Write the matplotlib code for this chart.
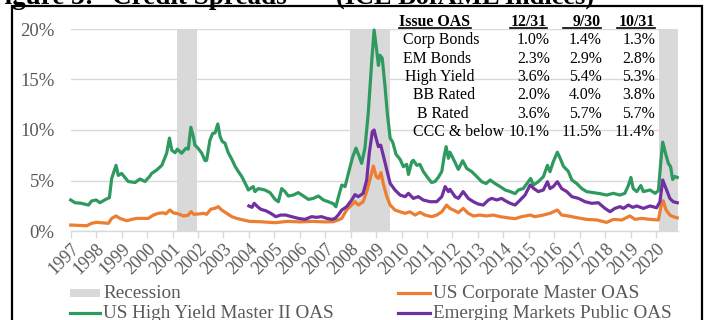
import matplotlib
matplotlib.use("Agg")
import matplotlib.pyplot as plt
from matplotlib.patches import Rectangle
from matplotlib.lines import Line2D
import numpy as np

plt.rcParams["font.family"] = ["Liberation Serif", "DejaVu Serif"]

# ---------------- data ----------------
hy_dates = [1997.0, 1997.17, 1997.4, 1997.7, 1997.82, 1998.0, 1998.15, 1998.35, 1998.52, 1998.61,
            1998.78, 1998.87, 1999.0, 1999.26, 1999.53, 1999.72, 1999.92, 2000.1, 2000.18, 2000.38,
            2000.58, 2000.77, 2000.88, 2000.97, 2001.1, 2001.19, 2001.36, 2001.53, 2001.62, 2001.72,
            2001.82, 2001.88, 2002.0, 2002.15, 2002.28, 2002.34, 2002.47, 2002.58, 2002.67, 2002.78,
            2002.87, 2002.96, 2003.06, 2003.19, 2003.33, 2003.46, 2003.59, 2003.72, 2003.92, 2003.98,
            2004.17, 2004.24, 2004.37, 2004.63, 2004.83, 2005.03, 2005.16, 2005.29, 2005.42, 2005.55,
            2005.75, 2005.94, 2006.14, 2006.34, 2006.53, 2006.73, 2006.93, 2007.12, 2007.32, 2007.42,
            2007.51, 2007.65, 2007.78, 2007.9, 2007.97, 2008.08, 2008.21, 2008.34, 2008.43, 2008.56,
            2008.69, 2008.83, 2008.92, 2009.02, 2009.09, 2009.15, 2009.24, 2009.35, 2009.44, 2009.55,
            2009.65, 2009.78, 2009.94, 2010.07, 2010.2, 2010.27, 2010.4, 2010.46, 2010.6, 2010.72,
            2010.85, 2011.05, 2011.18, 2011.31, 2011.44, 2011.58, 2011.67, 2011.75, 2011.84, 2011.9,
            2012.06, 2012.23, 2012.4, 2012.56, 2012.76, 2012.95, 2013.15, 2013.32, 2013.48, 2013.67,
            2013.87, 2014.07, 2014.27, 2014.46, 2014.59, 2014.78, 2014.98, 2015.07, 2015.18, 2015.37,
            2015.57, 2015.73, 2015.83, 2015.96, 2016.12, 2016.23, 2016.36, 2016.55, 2016.69, 2016.88,
            2017.08, 2017.27, 2017.53, 2017.79, 2018.06, 2018.32, 2018.58, 2018.77, 2018.91, 2019.01,
            2019.1, 2019.24, 2019.4, 2019.5, 2019.76, 2019.96, 2020.09, 2020.18, 2020.26, 2020.39,
            2020.48, 2020.57, 2020.65, 2020.74, 2020.83]
hy_oas = [3.07, 2.8, 2.75, 2.57, 2.97, 3.07, 2.8, 3.1, 3.3, 5.2,
          6.5, 5.5, 5.7, 4.9, 4.8, 5.15, 4.9, 5.4, 5.7, 6.04,
          6.5, 7.7, 9.2, 8.0, 7.75, 8.1, 7.7, 8.2, 8.1, 10.27,
          9.34, 8.5, 8.2, 7.7, 6.96, 7.0, 9.0, 9.67, 9.7, 10.6,
          9.34, 8.85, 8.7, 7.75, 7.1, 6.4, 5.87, 5.4, 4.4, 4.06,
          4.4, 3.9, 4.2, 4.06, 3.8, 3.13, 2.9, 4.2, 3.9, 3.46,
          3.56, 3.8, 3.46, 3.13, 3.23, 3.46, 3.07, 2.9, 2.7, 2.4,
          3.3, 4.55, 4.4, 5.6, 6.3, 7.35, 8.2, 7.35, 6.7, 8.2,
          11.65, 16.9, 19.9, 17.9, 16.4, 17.4, 17.1, 14.3, 11.65, 9.2,
          8.8, 7.6, 7.1, 6.37, 6.6, 5.6, 6.86, 7.0, 6.5, 6.6,
          5.9, 5.2, 4.8, 4.9, 5.3, 5.9, 7.35, 8.35, 7.2, 7.8,
          7.0, 6.1, 6.96, 6.2, 5.87, 5.4, 4.88, 4.7, 5.05, 4.7,
          4.4, 4.06, 3.9, 3.7, 4.06, 4.2, 4.88, 5.2, 4.55, 4.88,
          5.37, 6.5, 5.87, 6.86, 7.8, 7.2, 6.4, 5.9, 5.05, 4.7,
          4.2, 3.9, 3.8, 3.7, 3.56, 3.73, 3.56, 3.73, 4.5, 5.3,
          4.2, 3.9, 4.5, 3.9, 4.06, 3.73, 4.0, 6.7, 8.8, 7.5,
          6.7, 6.37, 5.1, 5.4, 5.3]

corp_dates = [1997.0, 1997.63, 1997.82, 1998.02, 1998.48, 1998.61, 1998.78, 1998.93, 1999.2, 1999.4,
              1999.59, 2000.05, 2000.25, 2000.44, 2000.64, 2000.74, 2000.9, 2001.03, 2001.23, 2001.42,
              2001.6, 2001.73, 2001.84, 2002.08, 2002.24, 2002.34, 2002.5, 2002.67, 2002.8, 2002.93,
              2003.13, 2003.33, 2003.52, 2003.78, 2004.04, 2004.43, 2005.03, 2005.5, 2006.0, 2006.5,
              2007.0, 2007.32, 2007.51, 2007.65, 2007.84, 2007.97, 2008.17, 2008.3, 2008.49, 2008.65,
              2008.79, 2008.89, 2009.0, 2009.09, 2009.19, 2009.28, 2009.42, 2009.55, 2009.74, 2009.94,
              2010.14, 2010.33, 2010.53, 2010.72, 2010.92, 2011.18, 2011.38, 2011.58, 2011.77, 2011.9,
              2012.1, 2012.23, 2012.42, 2012.62, 2012.82, 2013.08, 2013.34, 2013.6, 2013.87, 2014.13,
              2014.46, 2014.72, 2015.05, 2015.24, 2015.57, 2015.83, 2016.12, 2016.29, 2016.55, 2016.88,
              2017.27, 2017.67, 2018.06, 2018.32, 2018.65, 2018.97, 2019.17, 2019.43, 2019.76, 2020.09,
              2020.19, 2020.28, 2020.39, 2020.54, 2020.67, 2020.83]
corp_oas = [0.59, 0.52, 0.76, 0.86, 0.76, 1.25, 1.49, 1.25, 1.02, 1.15,
            1.25, 1.25, 1.58, 1.75, 1.8, 1.7, 2.08, 1.8, 1.7, 1.49,
            1.55, 1.91, 1.65, 1.7, 1.75, 1.65, 2.15, 2.25, 2.41, 2.08,
            1.75, 1.42, 1.25, 1.09, 0.95, 0.92, 0.82, 0.95, 0.9, 0.95,
            0.9, 0.92, 1.09, 1.25, 2.08, 2.41, 2.9, 2.57, 2.9, 4.06,
            5.4, 6.44, 5.4, 5.2, 5.78, 4.7, 3.4, 2.57, 2.08, 1.9,
            1.75, 1.9, 1.58, 1.85, 1.58, 1.42, 1.58, 1.9, 2.57, 2.24,
            2.0, 1.82, 2.24, 1.75, 1.49, 1.58, 1.49, 1.58, 1.42, 1.32,
            1.22, 1.42, 1.58, 1.42, 1.58, 1.75, 2.08, 1.58, 1.49, 1.32,
            1.15, 1.09, 0.85, 1.15, 1.09, 1.49, 1.15, 1.25, 1.15, 1.09,
            2.41, 3.0, 2.08, 1.58, 1.42, 1.3]

em_dates = [2004.0, 2004.12, 2004.21, 2004.34, 2004.47, 2004.67, 2004.86, 2005.06, 2005.25, 2005.45,
            2005.68, 2005.94, 2006.2, 2006.47, 2006.66, 2006.85, 2007.06, 2007.26, 2007.39, 2007.51,
            2007.65, 2007.84, 2008.04, 2008.17, 2008.3, 2008.49, 2008.63, 2008.73, 2008.85, 2008.92,
            2009.0, 2009.09, 2009.18, 2009.28, 2009.42, 2009.55, 2009.74, 2009.94, 2010.14, 2010.27,
            2010.46, 2010.66, 2010.85, 2011.12, 2011.38, 2011.58, 2011.71, 2011.84, 2011.9, 2012.1,
            2012.23, 2012.42, 2012.62, 2012.82, 2013.01, 2013.21, 2013.41, 2013.54, 2013.74, 2013.93,
            2014.07, 2014.27, 2014.46, 2014.66, 2014.85, 2015.05, 2015.2, 2015.37, 2015.57, 2015.73,
            2015.83, 2015.96, 2016.12, 2016.29, 2016.49, 2016.69, 2016.95, 2017.21, 2017.47, 2017.73,
            2017.99, 2018.19, 2018.38, 2018.58, 2018.72, 2018.91, 2019.08, 2019.24, 2019.5, 2019.76,
            2020.02, 2020.15, 2020.26, 2020.39, 2020.54, 2020.67, 2020.83]
em_oas = [2.48, 2.34, 2.74, 2.41, 2.15, 2.0, 1.75, 1.42, 1.58, 1.58,
          1.42, 1.25, 1.15, 1.42, 1.35, 1.42, 1.25, 1.15, 1.25, 1.58,
          2.08, 2.4, 3.07, 3.6, 3.4, 3.73, 5.05, 7.7, 9.83, 10.0,
          9.17, 8.35, 8.5, 7.5, 6.04, 4.72, 4.06, 3.56, 3.4, 3.73,
          3.23, 3.4, 3.07, 2.9, 2.9, 3.4, 4.4, 3.9, 4.13, 3.4,
          3.23, 3.9, 3.23, 2.9, 2.67, 2.57, 3.07, 3.23, 3.07, 3.23,
          3.0, 2.74, 2.57, 3.07, 3.56, 4.55, 4.2, 3.9, 4.06, 4.88,
          4.2, 4.4, 4.88, 4.2, 3.9, 3.4, 3.23, 2.9, 2.74, 2.8,
          2.24, 1.91, 2.24, 2.41, 2.24, 2.57, 2.34, 2.48, 2.24, 2.48,
          2.3, 2.9, 5.05, 4.2, 3.23, 2.9, 2.8]

recessions = [(2001.19, 2001.95), (2007.97, 2009.55), (2020.1, 2020.87)]
years = list(range(1997, 2021))
y_ticks = [0, 5, 10, 15, 20]

table_header = ["Issue OAS", "12/31", "9/30", "10/31"]
table_rows = ["Corp Bonds", "EM Bonds", "High Yield", "BB Rated", "B Rated", "CCC & below"]
table_12_31 = ["1.0%", "2.3%", "3.6%", "2.0%", "3.6%", "10.1%"]
table_9_30 = ["1.4%", "2.9%", "5.4%", "4.0%", "5.7%", "11.5%"]
table_10_31 = ["1.3%", "2.8%", "5.3%", "3.8%", "5.7%", "11.4%"]

legend_labels = ["Recession", "US Corporate Master OAS",
                 "US High Yield Master II OAS", "Emerging Markets Public OAS"]

# ---------------- styling ----------------
GREEN = "#2E9A60"
ORANGE = "#ED7D31"
PURPLE = "#7030A0"
REC_GREY = "#D9D9D9"
GRID = "#D9D9D9"
TXT = "#595959"

W, H = 706, 320
fig = plt.figure(figsize=(W / 100, H / 100), dpi=100)


def fx(px):
    return px / W


def fy(py):
    return 1 - py / H


x0, x1 = 70.7, 678.0
y0, y1 = 231.0, 29.0
ax = fig.add_axes([fx(x0), fy(y0), fx(x1) - fx(x0), fy(y1) - fy(y0)])
ax.set_xlim(1997.0, 2020.86)
ax.set_ylim(0, 20)

for a, b in recessions:
    ax.axvspan(a, b, ymin=0, ymax=1, color=REC_GREY, lw=0, zorder=1)

ax.set_yticks(y_ticks)
ax.set_yticklabels([f"{v}%" for v in y_ticks])
ax.yaxis.grid(True, color=GRID, lw=1.0, zorder=0)
ax.set_axisbelow(True)
ax.tick_params(axis="y", length=0, pad=11.5, labelsize=13.5, labelcolor=TXT)

ax.set_xticks(years)
ax.set_xticklabels([str(y) for y in years], rotation=45, ha="right",
                   va="top", rotation_mode="anchor")
ax.tick_params(axis="x", length=5, width=1, color=GRID, pad=2,
               labelsize=13, labelcolor=TXT)

for s in ["top", "right", "left"]:
    ax.spines[s].set_visible(False)
ax.spines["bottom"].set_color(GRID)
ax.spines["bottom"].set_linewidth(1.0)
ax.patch.set_alpha(0)

lw = 2.3
ax.plot(hy_dates, hy_oas, color=GREEN, lw=lw, zorder=3, clip_on=False, solid_joinstyle="round")
ax.plot(corp_dates, corp_oas, color=ORANGE, lw=lw, zorder=4, clip_on=False, solid_joinstyle="round")
ax.plot(em_dates, em_oas, color=PURPLE, lw=lw, zorder=5, clip_on=False, solid_joinstyle="round")

# ---------------- table of spreads ----------------
tfs = 11.4
hdr_base = 26
fig.text(fx(399), fy(hdr_base), table_header[0], fontsize=tfs, weight="bold",
         ha="left", va="baseline")
col_right = [547, 601, 655]
col_left = [510, 563, 617]
for h, r in zip(table_header[1:], col_right):
    fig.text(fx(r), fy(hdr_base), h, fontsize=tfs, weight="bold", ha="right", va="baseline")
ul_y = fy(28)
for l, r in [(399, 471)] + list(zip(col_left, col_right)):
    fig.add_artist(Line2D([fx(l), fx(r)], [ul_y, ul_y], color="black", lw=1.2))

row_x = [403, 403, 405, 413, 417, 413]
for i, name in enumerate(table_rows):
    yb = fy(44.5 + i * 18.3)
    fig.text(fx(row_x[i]), yb, name, fontsize=tfs, ha="left", va="baseline")
    for vals, r in zip([table_12_31, table_9_30, table_10_31], [550, 602, 655]):
        fig.text(fx(r), yb, vals[i], fontsize=tfs, ha="right", va="baseline")

# ---------------- legend ----------------
lfs = 13.8
row_y = [293, 313]
fig.add_artist(Rectangle((fx(70), fy(297)), fx(100) - fx(70), fy(289) - fy(297),
                         facecolor=REC_GREY, edgecolor="none"))
fig.text(fx(103), fy(row_y[0]), legend_labels[0], fontsize=lfs, color=TXT, va="center", ha="left")
fig.add_artist(Line2D([fx(398), fx(430)], [fy(row_y[0])] * 2, color=ORANGE, lw=2.3))
fig.text(fx(433), fy(row_y[0]), legend_labels[1], fontsize=lfs, color=TXT, va="center", ha="left")
fig.add_artist(Line2D([fx(70), fx(100)], [fy(row_y[1])] * 2, color=GREEN, lw=2.3))
fig.text(fx(103), fy(row_y[1]), legend_labels[2], fontsize=lfs, color=TXT, va="center", ha="left")
fig.add_artist(Line2D([fx(398), fx(430)], [fy(row_y[1])] * 2, color=PURPLE, lw=2.3))
fig.text(fx(433), fy(row_y[1]), legend_labels[3], fontsize=lfs, color=TXT, va="center", ha="left")

# ---------------- frame and heading (heading sits above the frame's top edge) ----------------
fig.add_artist(Rectangle((fx(12), -0.2), fx(702) - fx(12), fy(6) + 0.2,
                         facecolor="none", edgecolor="black", lw=1.6))
title_base = fy(3.5)
fig.text(fx(-12), title_base, "Figure 3:", fontsize=19.5, weight="bold",
         ha="left", va="baseline")
fig.text(fx(112), title_base, "Credit Spreads", fontsize=19.5, weight="bold",
         ha="left", va="baseline")
fig.text(fx(336), title_base, "(ICE BofAML Indices)", fontsize=19, weight="bold",
         ha="left", va="baseline")

fig.savefig("out.png", dpi=100)
